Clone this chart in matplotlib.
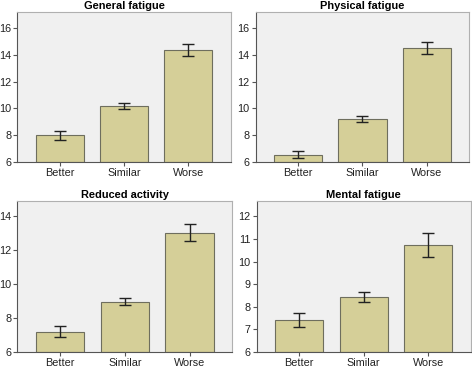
import matplotlib
matplotlib.use("Agg")
import matplotlib.pyplot as plt
import numpy as np

plt.rcParams["font.family"] = ["Liberation Sans", "DejaVu Sans"]

groups = ["Better", "Similar", "Worse"]

titles = ["General fatigue", "Physical fatigue", "Reduced activity", "Mental fatigue"]
means = [
    [8.0, 10.15, 14.35],
    [6.55, 9.2, 14.5],
    [7.18, 8.95, 13.0],
    [7.4, 8.43, 10.72],
]
lower = [
    [7.68, 9.95, 13.9],
    [6.27, 8.98, 14.05],
    [6.87, 8.75, 12.52],
    [7.08, 8.22, 10.2],
]
upper = [
    [8.35, 10.38, 14.8],
    [6.85, 9.4, 14.93],
    [7.5, 9.15, 13.5],
    [7.7, 8.65, 11.25],
]
ylims = [(6, 17.2), (6, 17.2), (6, 14.9), (6, 12.7)]
yticks = [[6, 8, 10, 12, 14, 16], [6, 8, 10, 12, 14, 16],
          [6, 8, 10, 12, 14], [6, 7, 8, 9, 10, 11, 12]]

positions = [
    [0.037, 0.562, 0.452, 0.406],
    [0.542, 0.562, 0.452, 0.406],
    [0.037, 0.049, 0.455, 0.409],
    [0.544, 0.049, 0.453, 0.409],
]

fig = plt.figure(figsize=(4.72, 3.70), dpi=100)

for i in range(4):
    ax = fig.add_axes(positions[i])
    ax.set_facecolor("#f0f0f0")
    x = np.arange(len(groups))
    m = np.array(means[i])
    err = [m - np.array(lower[i]), np.array(upper[i]) - m]
    ax.bar(x, m - ylims[i][0], bottom=ylims[i][0], width=0.75,
           color="#d5cf98", edgecolor="#6e6e5e", linewidth=0.8, zorder=2)
    ax.errorbar(x, m, yerr=err, fmt="none", ecolor="#222222",
                elinewidth=1.0, capsize=4.5, capthick=1.0, zorder=3)
    ax.set_xlim(-0.66, 2.66)
    ax.set_ylim(*ylims[i])
    ax.set_yticks(yticks[i])
    ax.set_xticks(x)
    ax.set_xticklabels(groups)
    ax.set_title(titles[i], fontsize=7.9, fontweight="bold", pad=2)
    ax.tick_params(axis="both", labelsize=7.8, length=3, width=0.8,
                   color="#555555", labelcolor="#222222", pad=1.5)
    for side in ["left", "bottom"]:
        ax.spines[side].set_color("#555555")
        ax.spines[side].set_linewidth(0.8)
    for side in ["top", "right"]:
        ax.spines[side].set_color("#b0b0b0")
        ax.spines[side].set_linewidth(0.8)

fig.savefig("out.png", dpi=100)
